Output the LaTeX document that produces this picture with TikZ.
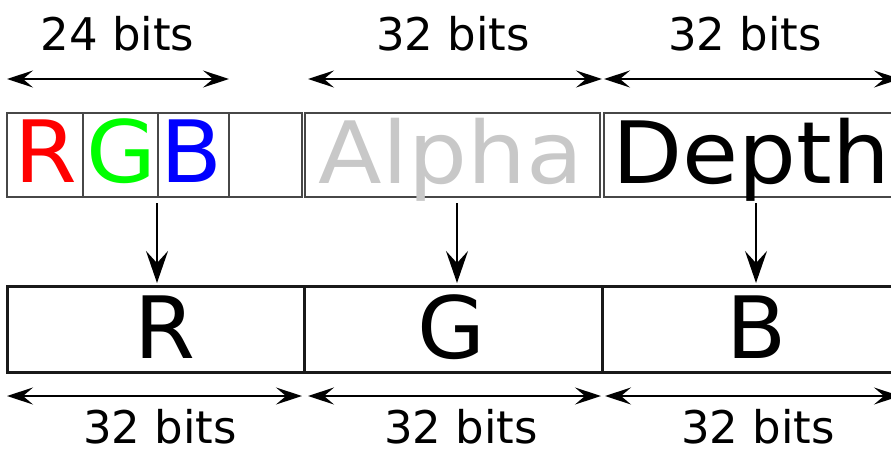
\documentclass[tikz,border=0pt]{standalone}
\usepackage{fontspec}
\setmainfont{DejaVu Sans}
\usetikzlibrary{arrows.meta}
\definecolor{chanR}{RGB}{255,0,0}
\definecolor{chanG}{RGB}{0,255,0}
\definecolor{chanB}{RGB}{0,0,255}
\definecolor{alphagrey}{RGB}{200,200,200}
\begin{document}
\begin{tikzpicture}[x=1pt,y=-1pt,
  dim/.style={line width=1.7pt, {Stealth[length=26pt,width=17pt,inset=10pt]}-{Stealth[length=26pt,width=17pt,inset=10pt]}},
  down/.style={line width=1.7pt, -{Stealth[length=32pt,width=22pt,inset=12pt]}},
  topcell/.style={draw=black!72, line width=1.7pt, minimum height=84pt, inner sep=0pt, anchor=center},
  botcell/.style={draw=black!90, line width=3pt, minimum height=86pt, inner sep=0pt, anchor=center},
  bits/.style={font=\fontsize{45}{45}\selectfont, anchor=base, inner sep=0pt, text depth=0pt},
  big/.style={font=\fontsize{86}{86}\selectfont, anchor=base, inner sep=0pt}
]
\useasboundingbox (0,0) rectangle (891,450);
\clip (0,0) rectangle (891,450);

% packed source word: RGB + spare byte, alpha, depth
\node[topcell, minimum width=76pt] (cR) at (45,155) {};
\node[topcell, minimum width=75pt] (cG) at (120.5,155) {};
\node[topcell, minimum width=71pt] (cB) at (193.5,155) {};
\node[topcell, minimum width=73pt] (cX) at (265.5,155) {};
\node[topcell, minimum width=295pt] (alpha) at (452.5,155) {};
\node[topcell, minimum width=304pt] (depth) at (756,155) {};

\node[big, text=chanR, xscale=1.05] (tR) at (45.5,182) {R};
\node[big, text=chanG, xscale=1.05] (tG) at (121.5,182) {G};
\node[big, text=chanB, xscale=1.05] (tB) at (191.5,182) {B};
\node[big, text=alphagrey, xscale=1.08] (tA) at (451,183) {Alpha};
\node[big, text=black, xscale=1.06] (tD) at (751,183) {Depth};

% output channels
\node[botcell, minimum width=297pt] (oR) at (155.5,329) {};
\node[botcell, minimum width=298pt] (oG) at (453,329) {};
\node[botcell, minimum width=298pt] (oB) at (751,329) {};

\node[big, xscale=1.02] (lR) at (165,358) {R};
\node[big, xscale=1.02] (lG) at (451.5,358) {G};
\node[big, xscale=1.02] (lB) at (757,358) {B};

% mapping arrows
\coordinate (s1) at (157,203);
\coordinate (e1) at (157,283);
\coordinate (s2) at (457,203);
\coordinate (e2) at (457,283);
\coordinate (s3) at (756,203);
\coordinate (e3) at (756,283);
\draw[down] (s1) -- (e1);
\draw[down] (s2) -- (e2);
\draw[down] (s3) -- (e3);

% width markers, top row
\coordinate (ta1) at (7,79);
\coordinate (tb1) at (229,79);
\coordinate (ta2) at (308,79);
\coordinate (tb2) at (602,79);
\coordinate (ta3) at (604,79);
\coordinate (tb3) at (900,79);
\draw[dim] (ta1) -- (tb1);
\draw[dim] (ta2) -- (tb2);
\draw[dim] (ta3) -- (tb3);
\node[bits] (w1) at (117.5,50) {24 bits};
\node[bits] (w2) at (453,50) {32 bits};
\node[bits] (w3) at (745,50) {32 bits};

% width markers, bottom row
\coordinate (ba1) at (7,396);
\coordinate (bb1) at (302,396);
\coordinate (ba2) at (308,396);
\coordinate (bb2) at (601,396);
\coordinate (ba3) at (605,396);
\coordinate (bb3) at (900,396);
\draw[dim] (ba1) -- (bb1);
\draw[dim] (ba2) -- (bb2);
\draw[dim] (ba3) -- (bb3);
\node[bits] (v1) at (160,443) {32 bits};
\node[bits] (v2) at (461,443) {32 bits};
\node[bits] (v3) at (758,443) {32 bits};
\end{tikzpicture}
\end{document}
